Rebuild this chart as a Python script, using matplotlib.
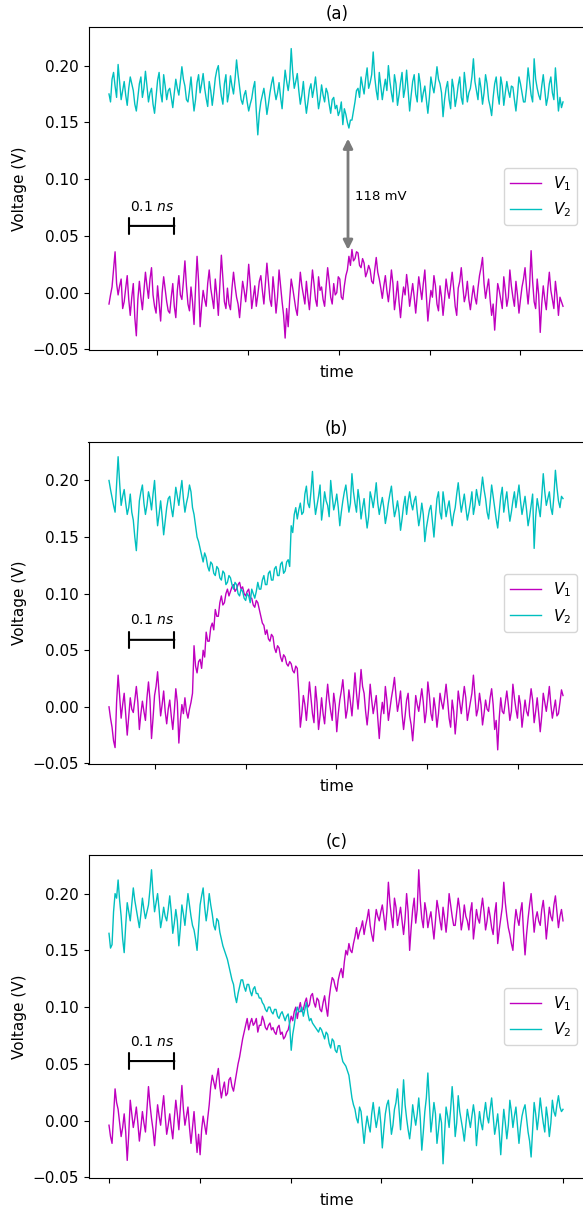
import numpy as np
import matplotlib
matplotlib.use("Agg")
import matplotlib.pyplot as plt
from matplotlib.ticker import MultipleLocator

# ---------------- data (mV) ----------------
# panel (a)
a_v1 = [-10, -2, 5, 20, 36, 8, -2, 6, 12, -14, -8, 4, 15, -6, -20, -4, 8, -22, -38, -6,
        10, -4, -15, 2, 18, 6, -5, 12, 22, -2, -12, -18, 6, -10, -25, 0, 14, 3, -8, -16,
        -18, -4, 8, -12, -22, 2, 15, -2, -6, 10, 28, 6, -10, -16, 5, -8, -28, 4, 32, 10,
        -30, -12, 2, -6, -12, 8, 20, 4, -5, -14, 12, -2, -20, 6, 33, 12, -8, -14, 4, -10,
        -15, 4, 18, 6, -4, -10, -22, -6, 10, 2, -8, 6, 25, 8, -14, -4, 6, -12, -2, 10,
        15, 2, -10, 8, 26, 10, -6, -12, 14, 0, -18, -4, 20, 6, -8, -20, -40, -14, -30, -6,
        12, 4, -5, -14, -20, 0, 18, 6, -2, -10, 10, -4, -15, 2, 20, 8, -6, -12, 14, 2,
        5, -6, -12, 6, 22, 10, -4, -10, 8, -2, 0, 14, 12, -4, -6, 6, 15, 20, 32, 24,
        38, 28, 30, 36, 35, 24, 22, 30, 26, 14, 18, 24, 20, 10, 8, 20, 31, 18, 12, 4,
        -5, 6, 15, 2, -8, 4, 20, 8, -15, -4, 10, -8, -22, -6, 5, -2, 16, 4, -12, -2,
        8, -4, -18, -2, 14, 4, -6, 8, 20, -2, -25, -10, 2, -4, 15, 6, -10, -16, 6, -4,
        -20, -6, 12, 2, -5, 6, 18, 4, -12, -20, 4, 10, 22, 6, -8, -2, 10, -6, -15, -4,
        6, -4, -10, 4, 15, 22, 31, 8, -5, 4, 12, -6, -20, -10, -33, -12, 8, 2, -6, -14,
        14, 2, -12, -4, 20, 6, -4, -12, 10, -2, -18, -6, 5, 12, 22, 4, -10, 6, 37, 10,
        -8, -14, 12, -2, -35, -10, 6, -6, -15, 4, 18, 2, -6, -14, 10, -2, -20, -4, -8, -12]
a_v2 = [175, 168, 188, 194, 182, 172, 201, 186, 170, 178, 186, 174, 165, 180, 190, 184, 178, 166, 160, 172,
        184, 190, 172, 180, 195, 182, 168, 176, 180, 166, 158, 172, 187, 194, 176, 168, 192, 182, 170, 178,
        180, 172, 163, 176, 188, 180, 174, 186, 199, 188, 182, 170, 168, 178, 190, 174, 160, 170, 185, 192,
        176, 184, 193, 180, 171, 164, 186, 178, 165, 176, 189, 196, 200, 184, 173, 166, 184, 192, 168, 176,
        191, 182, 175, 188, 205, 192, 181, 170, 166, 174, 178, 168, 160, 166, 171, 180, 186, 160, 139, 158,
        168, 174, 180, 170, 157, 166, 176, 184, 190, 178, 170, 176, 185, 172, 162, 180, 196, 186, 178, 188,
        215, 194, 180, 186, 193, 178, 166, 174, 186, 170, 158, 168, 179, 184, 172, 180, 190, 176, 162, 170,
        183, 174, 168, 180, 176, 166, 158, 170, 172, 162, 165, 156, 160, 168, 148, 162, 157, 150, 145, 152,
        152, 160, 168, 178, 180, 172, 190, 182, 175, 188, 198, 180, 185, 192, 212, 190, 178, 170, 194, 182,
        170, 180, 188, 178, 200, 186, 176, 168, 192, 184, 165, 174, 185, 194, 172, 180, 196, 178, 160, 174,
        186, 192, 175, 168, 193, 184, 168, 176, 182, 170, 158, 172, 190, 182, 176, 186, 199, 188, 184, 176,
        155, 170, 180, 186, 170, 162, 188, 180, 164, 172, 183, 190, 172, 166, 194, 182, 168, 176, 180, 190,
        206, 186, 178, 170, 189, 180, 166, 176, 192, 184, 170, 164, 156, 172, 184, 190, 175, 166, 190, 182,
        165, 176, 186, 178, 172, 182, 181, 170, 160, 174, 190, 184, 176, 168, 168, 180, 198, 186, 174, 168,
        206, 188, 180, 174, 170, 182, 192, 178, 165, 172, 184, 190, 176, 170, 198, 180, 160, 172, 163, 168]

# panel (b)
b_v1 = [0, -10, -18, -30, -36, 4, 28, 10, -10, 2, 12, -6, -25, -8, 8, -2, -5, 6, 18, 4,
        -20, -6, 5, -4, -12, 8, 22, 6, -28, -10, 10, 18, 31, 12, -8, 2, 14, -4, -15, -2,
        6, -8, -20, -4, 16, 4, -32, -12, 2, -6, 8, -4, -10, -2, 4, 12, 54, 36, 30, 40,
        42, 34, 50, 44, 66, 58, 58, 70, 74, 68, 86, 80, 80, 92, 98, 90, 92, 100, 104, 98,
        102, 106, 108, 102, 104, 108, 110, 104, 106, 100, 98, 102, 104, 96, 96, 90, 88, 94, 92, 86,
        80, 74, 72, 64, 68, 60, 58, 64, 62, 52, 48, 54, 52, 44, 40, 46, 44, 38, 36, 40,
        38, 32, 30, 36, 34, 12, -18, -6, 10, 2, -12, 4, 22, 8, -6, -14, 18, 4, -20, -8,
        8, -6, -15, 4, 20, 6, -4, -12, 12, 2, -22, -6, 6, 14, 24, 8, -10, -2, 15, 4,
        -8, 10, 30, 12, -2, 14, 33, 18, 12, -4, -16, -2, 20, 6, -6, 2, 10, -10, -28, -8,
        4, -6, 18, 6, -12, -2, 8, 16, 26, 10, -4, 4, 14, -6, -20, -8, 6, 12, -8, -16,
        -30, -12, 10, 2, -4, 6, 16, 4, -14, -4, 22, 10, -6, -12, 8, -2, -18, -6, 12, 4,
        -2, 8, 20, 6, -10, -18, 6, -4, -24, -8, 14, 4, -6, 6, 18, 8, -12, -4, 4, 12,
        28, 10, -8, -2, 12, 2, -16, -6, 6, -2, -4, 8, 16, 2, -20, -12, -38, -10, 8, -4,
        -6, 4, 14, 2, -12, -4, 20, 8, -2, -10, 10, 2, -18, -6, 6, -4, -8, 4, 16, 6,
        -14, -4, 8, -6, -22, -8, 12, 4, -4, 6, 18, 2, -10, -2, 6, -8, -6, 4, 15, 10]
b_v2 = [200, 192, 185, 178, 172, 196, 221, 198, 178, 186, 192, 180, 170, 176, 188, 172, 165, 150, 138, 160,
        182, 190, 196, 180, 170, 178, 190, 184, 174, 188, 200, 178, 160, 170, 182, 168, 152, 164, 176, 184,
        186, 176, 168, 180, 194, 186, 178, 190, 200, 184, 172, 180, 186, 196, 190, 176, 170, 160, 150, 146,
        140, 134, 128, 136, 132, 124, 120, 128, 126, 118, 116, 124, 122, 114, 112, 120, 118, 108, 110, 116,
        114, 108, 104, 110, 108, 100, 98, 104, 102, 96, 94, 100, 98, 92, 104, 100, 96, 102, 110, 104,
        104, 112, 116, 108, 108, 118, 120, 112, 112, 122, 124, 116, 116, 126, 128, 118, 120, 128, 130, 124,
        160, 154, 170, 176, 166, 174, 180, 170, 172, 188, 195, 180, 176, 190, 208, 184, 170, 178, 186, 196,
        165, 176, 190, 182, 178, 168, 200, 186, 174, 180, 188, 176, 160, 172, 182, 190, 196, 184, 172, 180,
        206, 190, 180, 172, 192, 182, 166, 176, 184, 170, 158, 168, 190, 184, 176, 186, 198, 180, 170, 178,
        185, 176, 162, 170, 180, 188, 195, 180, 168, 174, 182, 172, 156, 166, 178, 186, 170, 182, 190, 180,
        174, 182, 186, 172, 160, 168, 180, 170, 146, 158, 166, 174, 178, 164, 150, 168, 184, 190, 172, 166,
        190, 180, 168, 176, 182, 170, 160, 170, 176, 188, 198, 184, 172, 180, 188, 176, 165, 172, 180, 190,
        170, 178, 192, 184, 178, 190, 203, 192, 184, 172, 166, 180, 196, 186, 176, 166, 158, 172, 186, 194,
        172, 182, 190, 176, 164, 172, 182, 190, 176, 186, 196, 182, 170, 178, 186, 174, 160, 168, 178, 188,
        140, 168, 184, 176, 168, 186, 206, 190, 178, 184, 190, 176, 170, 186, 209, 194, 182, 176, 186, 184]

# panel (c)
c_v1 = [-4, -14, -20, 4, 28, 16, 10, -2, -14, -6, 6, -10, -35, -12, 18, 6, -6, 2, 12, -2,
        -18, -6, 8, -2, -10, 10, 30, 14, 2, -8, -22, -4, 14, 4, -4, 10, 22, 4, -12, -4,
        6, -6, -16, 2, 18, 6, -8, 12, 31, 10, -4, 4, 12, -6, -20, -6, 8, -10, -28, -12,
        -30, -8, 4, -4, -12, 2, 14, 30, 40, 34, 28, 38, 46, 30, 20, 28, 34, 22, 24, 36,
        38, 30, 26, 34, 42, 50, 56, 64, 72, 78, 84, 90, 80, 86, 90, 84, 86, 90, 78, 84,
        84, 92, 88, 82, 80, 84, 86, 80, 82, 78, 76, 82, 84, 76, 78, 72, 74, 78, 80, 86,
        92, 88, 96, 100, 90, 98, 104, 96, 98, 104, 108, 100, 102, 110, 112, 104, 100, 108, 106, 98,
        96, 104, 110, 100, 92, 108, 118, 126, 124, 118, 114, 124, 130, 134, 126, 140, 150, 146, 156, 150,
        148, 156, 162, 170, 160, 166, 170, 176, 164, 172, 178, 186, 172, 164, 158, 174, 186, 180, 176, 184,
        190, 180, 168, 184, 210, 192, 180, 170, 196, 188, 172, 180, 188, 176, 164, 178, 200, 184, 150, 170,
        186, 196, 174, 186, 221, 194, 178, 170, 192, 184, 170, 178, 184, 172, 160, 176, 194, 186, 176, 168,
        188, 178, 166, 180, 200, 190, 180, 172, 172, 184, 196, 186, 168, 176, 190, 180, 176, 168, 184, 192,
        160, 172, 186, 178, 174, 186, 196, 184, 168, 176, 188, 180, 170, 164, 182, 192, 156, 168, 178, 188,
        210, 192, 180, 170, 164, 156, 150, 172, 186, 178, 172, 184, 192, 166, 146, 164, 178, 190, 200, 184,
        166, 178, 184, 176, 172, 186, 194, 180, 160, 174, 188, 180, 176, 190, 198, 184, 170, 180, 186, 176]
c_v2 = [165, 152, 155, 184, 200, 196, 212, 194, 180, 160, 148, 172, 192, 184, 176, 190, 205, 194, 186, 178,
        170, 182, 196, 186, 178, 184, 190, 204, 221, 200, 184, 192, 200, 186, 170, 178, 188, 180, 176, 186,
        198, 184, 165, 174, 186, 176, 154, 170, 190, 182, 172, 186, 200, 190, 180, 172, 168, 160, 150, 170,
        190, 198, 205, 188, 176, 186, 200, 190, 182, 172, 168, 178, 176, 166, 160, 154, 150, 146, 142, 136,
        130, 124, 120, 110, 104, 112, 118, 124, 124, 118, 114, 120, 120, 114, 110, 116, 118, 112, 112, 108,
        108, 104, 102, 98, 96, 100, 100, 96, 94, 98, 98, 92, 90, 94, 96, 92, 88, 92, 94, 84,
        62, 76, 84, 94, 100, 96, 96, 100, 92, 98, 104, 94, 88, 90, 86, 84, 82, 80, 78, 82,
        80, 76, 72, 78, 76, 68, 64, 72, 70, 62, 60, 66, 66, 58, 52, 50, 48, 44, 40, 30,
        20, 14, 10, 2, -2, 12, 8, -6, -20, -6, 4, -4, -10, 6, 16, 4, -6, 2, 12, -2,
        -24, -8, 6, 14, 18, 4, -12, -4, 10, 16, 28, 10, -8, 12, 36, 14, 2, -8, -16, -4,
        14, 4, -4, 6, 20, 2, -26, -10, 8, 20, 42, 16, -10, 2, 16, 6, -20, -8, 6, -2,
        -38, -12, 12, 4, -6, 10, 30, 12, -14, -2, 22, 8, 0, -8, -18, -4, 10, 2, -6, 4,
        14, 4, -22, -6, 8, -2, -8, 6, 16, 4, -2, 10, 20, 4, -12, -4, 6, -10, -30, -8,
        10, -2, -16, -4, 18, 8, -6, 4, 12, -4, -20, -6, 4, 10, 14, 2, -10, -18, -32, -8,
        16, 6, -8, 4, 20, 8, -2, -10, 12, 2, -14, -2, 18, 8, 4, 14, 22, 12, 8, 10]

panel_titles = ["(a)", "(b)", "(c)"]
panel_starts = [-0.106, -0.101, 0.0]      # time of first sample (ns)
series_labels = ["$V_1$", "$V_2$"]
gap_label = "118 mV"
scale_label = "0.1 $ns$"
scale_len = 0.1                              # ns
arrow_lo, arrow_hi = 37.7, 135.7             # mV
span = 1.0                                   # ns of recorded trace

# ---------------- figure ----------------
W, H = 583, 1214
fig = plt.figure(figsize=(W / 100, H / 100), dpi=100)

col1 = "#BF00BF"
col2 = "#00BFBF"

def px_axes(left, top, right, bottom):
    return fig.add_axes([left / W, 1 - bottom / H, (right - left) / W, (bottom - top) / H])

boxes = [(88.5, 27, 585, 350), (88.5, 442, 585, 764), (88.5, 855, 585, 1178)]
data = [(a_v1, a_v2), (b_v1, b_v2), (c_v1, c_v2)]
scale_y = [0.0588, 0.0592, 0.0525]
scale_ty = [0.0754, 0.0764, 0.0693]
leg_anchor = [0.475, 0.5, 0.5]

for i, (box, (v1, v2)) in enumerate(zip(boxes, data)):
    ax = px_axes(*box)
    t0 = panel_starts[i]
    t1 = np.linspace(t0, t0 + span, len(v1))
    t2 = np.linspace(t0, t0 + span, len(v2))
    ax.plot(t1, np.array(v1) / 1000.0, color=col1, lw=1.0, label=series_labels[0])
    ax.plot(t2, np.array(v2) / 1000.0, color=col2, lw=1.0, label=series_labels[1])

    left, top, right, bottom = box
    pxs = span / 454.0
    ax.set_xlim(t0 - (109 - left) * pxs, t0 + span + (right - 563) * pxs)
    ax.set_ylim(-0.0505, 0.234)
    ax.xaxis.set_major_locator(MultipleLocator(0.2))
    ax.set_xticklabels([])
    ax.yaxis.set_major_locator(MultipleLocator(0.05))
    ax.tick_params(labelsize=11)
    ax.set_ylabel("Voltage (V)", fontsize=11)
    ax.set_xlabel("time", fontsize=11)
    ax.set_title(panel_titles[i], fontsize=12)

    # scale bar
    xs = t0 + 0.044
    ax.annotate("", xy=(xs, scale_y[i]), xytext=(xs + scale_len, scale_y[i]),
                arrowprops=dict(arrowstyle="|-|", lw=1.5, color="black",
                                shrinkA=0, shrinkB=0, mutation_scale=6))
    ax.text(xs + scale_len / 2, scale_ty[i], scale_label, ha="center", va="center",
            fontsize=10)

    ax.legend(loc="center right", bbox_to_anchor=(1.0, leg_anchor[i]), fontsize=11)

    if i == 0:
        xa = t0 + (348 - 109) * pxs
        ax.annotate("", xy=(xa, arrow_lo / 1000.0), xytext=(xa, arrow_hi / 1000.0),
                    arrowprops=dict(arrowstyle="<|-|>", lw=2, color="#7a7a7a",
                                    shrinkA=0, shrinkB=0, mutation_scale=14))
        ax.text(xa + 7 * pxs, 0.085, gap_label, ha="left", va="center", fontsize=9.5)

fig.savefig("out.png", dpi=100)
